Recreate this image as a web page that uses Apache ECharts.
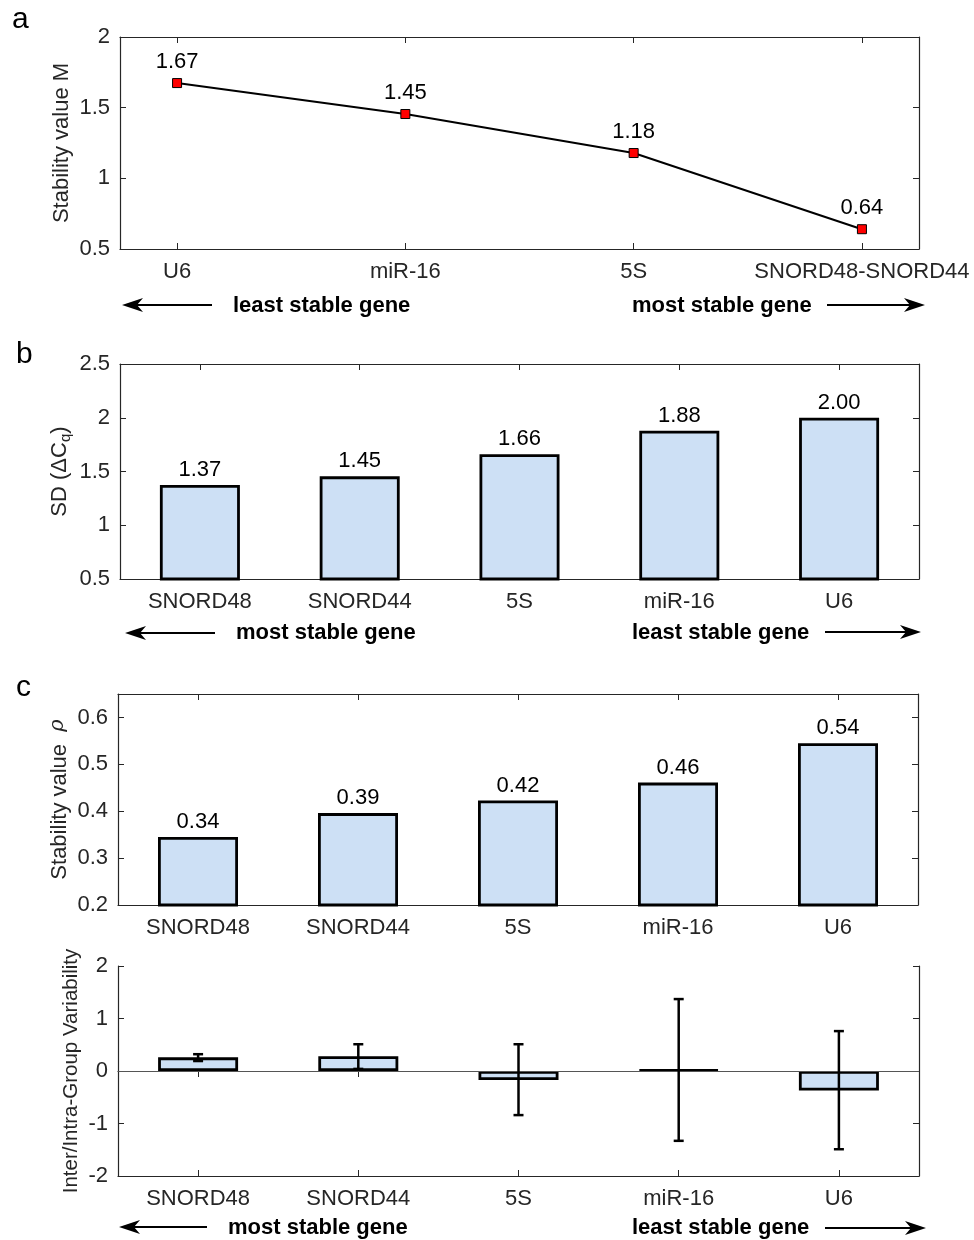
<!DOCTYPE html>
<html>
<head>
<meta charset="utf-8">
<script src="https://cdn.jsdelivr.net/npm/echarts@6/dist/echarts.min.js"></script>
<style>
  html, body { margin: 0; padding: 0; background: #fff; }
  #chart { width: 974px; height: 1240px; }
</style>
</head>
<body>
<div id="chart"></div>
<script>
// panel a
const genesA = ["U6", "miR-16", "5S", "SNORD48-SNORD44"];
const stabilityM = [1.674, 1.455, 1.179, 0.64];
const stabilityMLabels = ["1.67", "1.45", "1.18", "0.64"];
// panels b, c, d
const genes = ["SNORD48", "SNORD44", "5S", "miR-16", "U6"];
const sdDeltaCq = [1.374, 1.455, 1.66, 1.88, 2.0];
const sdDeltaCqLabels = ["1.37", "1.45", "1.66", "1.88", "2.00"];
const stabilityRho = [0.345, 0.396, 0.423, 0.461, 0.545];
const stabilityRhoLabels = ["0.34", "0.39", "0.42", "0.46", "0.54"];
const variability = [0.26, 0.28, -0.17, 0.025, -0.37];
const variabilityLow = [0.19, 0.04, -0.84, -1.33, -1.49];
const variabilityHigh = [0.32, 0.51, 0.51, 1.37, 0.76];

const FONT = "'Liberation Sans', Arial, sans-serif";
const AXIS = "#262626";
const BAR = "#cde0f5";
const FS = 22;

const chart = echarts.init(document.getElementById("chart"));

const tick = { show: true, inside: true, length: 6, lineStyle: { color: AXIS, width: 1 } };
const line = { show: true, lineStyle: { color: AXIS, width: 1.2 } };
const label = { color: AXIS, fontSize: FS, fontFamily: FONT };

function yPair(grid, min, max, interval, name, nameGap, hideAbove) {
  const left = {
    type: "value", gridIndex: grid, position: "left", min, max, interval,
    axisLine: line, axisTick: tick, splitLine: { show: false },
    axisLabel: Object.assign({ margin: 10,
      formatter: (v) => (hideAbove !== undefined && v > hideAbove ? "" : String(+v.toFixed(2))) }, label),
    name, nameLocation: "middle", nameRotate: 90, nameGap, nameMoveOverlap: false,
    nameTextStyle: { color: AXIS, fontSize: 22, fontFamily: FONT },
  };
  const right = {
    type: "value", gridIndex: grid, position: "right", min, max, interval,
    axisLine: line, axisTick: tick, axisLabel: { show: false }, splitLine: { show: false },
  };
  return [left, right];
}

function xCatPair(grid) {
  const bottom = {
    type: "category", gridIndex: grid, position: "bottom", data: genes,
    axisLine: Object.assign({ onZero: false }, line),
    axisTick: Object.assign({ alignWithLabel: true }, tick),
    axisLabel: Object.assign({ margin: 12 }, label),
  };
  const top = {
    type: "category", gridIndex: grid, position: "top", data: genes,
    axisLine: line, axisTick: Object.assign({ alignWithLabel: true }, tick),
    axisLabel: { show: false },
  };
  return [bottom, top];
}

function barSeries(axis, values, labels) {
  return {
    type: "bar", xAxisIndex: axis, yAxisIndex: axis, barWidth: 80,
    data: values,
    itemStyle: { color: BAR, borderColor: "#000", borderWidth: 2.8 },
    label: {
      show: !!labels, position: "top", distance: 4, color: "#000",
      fontSize: FS, fontFamily: FONT,
      formatter: (p) => (labels ? labels[p.dataIndex] : ""),
    },
    silent: true,
  };
}

function arrow(tail, tip, y) {
  const d = tip > tail ? 1 : -1;
  return {
    type: "group",
    children: [
      { type: "line", shape: { x1: tail, y1: y, x2: tip - d * 12, y2: y },
        style: { stroke: "#000", lineWidth: 2 } },
      { type: "polygon",
        shape: { points: [[tip, y], [tip - d * 21, y - 7], [tip - d * 15, y], [tip - d * 21, y + 7]] },
        style: { fill: "#000" } },
    ],
  };
}

function txt(text, x, y, opts) {
  return {
    type: "text", x, y,
    style: Object.assign({ text, fill: "#000", font: "bold 22px " + FONT, verticalAlign: "middle" }, opts || {}),
  };
}

const yA = yPair(0, 0.5, 2, 0.5, "Stability value M", 47);
const yB = yPair(1, 0.5, 2.5, 0.5, "{a|SD (ΔC}{s|q}{a|)}", 47);
yB[0].nameTextStyle.rich = {
  a: { fontSize: 22, fontFamily: FONT, color: AXIS },
  s: { fontSize: 15, fontFamily: FONT, color: AXIS, padding: [12, 0, 0, 0] },
};
const yC = yPair(2, 0.2, 0.65, 0.1, "{a|Stability value  }{r|ρ}", 46, 0.61);
yC[0].nameTextStyle.rich = {
  a: { fontSize: 22, fontFamily: FONT, color: AXIS },
  r: { fontSize: 21, fontFamily: "'DejaVu Serif', serif", fontStyle: "italic", color: AXIS, padding: [0, 0, 4, 0] },
};
const yD = yPair(3, -2, 2, 1, "Inter/Intra-Group Variability", 36);
yD[0].nameTextStyle.fontSize = 20.5;

const option = {
  backgroundColor: "#fff",
  animation: false,
  textStyle: { fontFamily: FONT },
  grid: [
    { left: 120, right: 55, top: 37, height: 212 },
    { left: 120, right: 55, top: 364, height: 215 },
    { left: 118, right: 56, top: 694, height: 211 },
    { left: 118, right: 55, top: 966, height: 210 },
  ],
  xAxis: [
    {
      type: "value", gridIndex: 0, position: "bottom", min: 0.75, max: 4.25,
      axisLine: Object.assign({ onZero: false }, line),
      axisTick: Object.assign({ customValues: [1, 2, 3, 4] }, tick),
      axisLabel: Object.assign({ margin: 12, customValues: [1, 2, 3, 4],
        formatter: (v) => genesA[Math.round(v) - 1] || "" }, label),
      splitLine: { show: false },
    },
    {
      type: "value", gridIndex: 0, position: "top", min: 0.75, max: 4.25,
      axisLine: line,
      axisTick: Object.assign({ customValues: [1, 2, 3, 4] }, tick),
      axisLabel: { show: false }, splitLine: { show: false },
    },
    ...xCatPair(1),
    ...xCatPair(2),
    ...xCatPair(3),
  ],
  yAxis: [...yA, ...yB, ...yC, ...yD],
  series: [
    {
      type: "line", xAxisIndex: 0, yAxisIndex: 0,
      data: stabilityM.map((v, i) => [i + 1, v]),
      lineStyle: { color: "#000", width: 2 },
      symbol: "rect", symbolSize: 9,
      itemStyle: { color: "#ff0000", borderColor: "#000", borderWidth: 1 },
      label: {
        show: true, position: "top", distance: 5, color: "#000", fontSize: FS, fontFamily: FONT,
        formatter: (p) => stabilityMLabels[p.dataIndex],
      },
      silent: true,
    },
    barSeries(2, sdDeltaCq, sdDeltaCqLabels),
    barSeries(4, stabilityRho, stabilityRhoLabels),
    Object.assign(barSeries(6, variability, null), {
      markLine: {
        silent: true, symbol: "none", label: { show: false },
        lineStyle: { color: "#555", width: 1, type: "solid" },
        data: [{ yAxis: 0 }],
      },
    }),
    {
      type: "custom", xAxisIndex: 6, yAxisIndex: 6, z: 5, silent: true,
      data: genes.map((g, i) => [i, variabilityLow[i], variabilityHigh[i]]),
      encode: { x: 0, y: [1, 2] },
      renderItem: (params, api) => {
        const lo = api.coord([api.value(0), api.value(1)]);
        const hi = api.coord([api.value(0), api.value(2)]);
        const x = lo[0];
        const c = 5;
        const st = { stroke: "#000", lineWidth: 2.5 };
        return {
          type: "group",
          children: [
            { type: "line", shape: { x1: x, y1: lo[1], x2: x, y2: hi[1] }, style: st },
            { type: "line", shape: { x1: x - c, y1: lo[1], x2: x + c, y2: lo[1] }, style: st },
            { type: "line", shape: { x1: x - c, y1: hi[1], x2: x + c, y2: hi[1] }, style: st },
          ],
        };
      },
    },
  ],
  graphic: [
    txt("a", 12, 20, { font: "30px " + FONT }),
    txt("b", 16, 355, { font: "30px " + FONT }),
    txt("c", 16, 688, { font: "30px " + FONT }),
    // panel a
    arrow(212, 122, 305),
    txt("least stable gene", 233, 306),
    txt("most stable gene", 632, 306),
    arrow(827, 925, 305),
    // panel b
    arrow(215, 125, 633),
    txt("most stable gene", 236, 633),
    txt("least stable gene", 632, 633),
    arrow(825, 921, 632),
    // panel d
    arrow(207, 119, 1227),
    txt("most stable gene", 228, 1228),
    txt("least stable gene", 632, 1228),
    arrow(825, 926, 1228),
  ],
};

chart.setOption(option);
</script>
</body>
</html>
